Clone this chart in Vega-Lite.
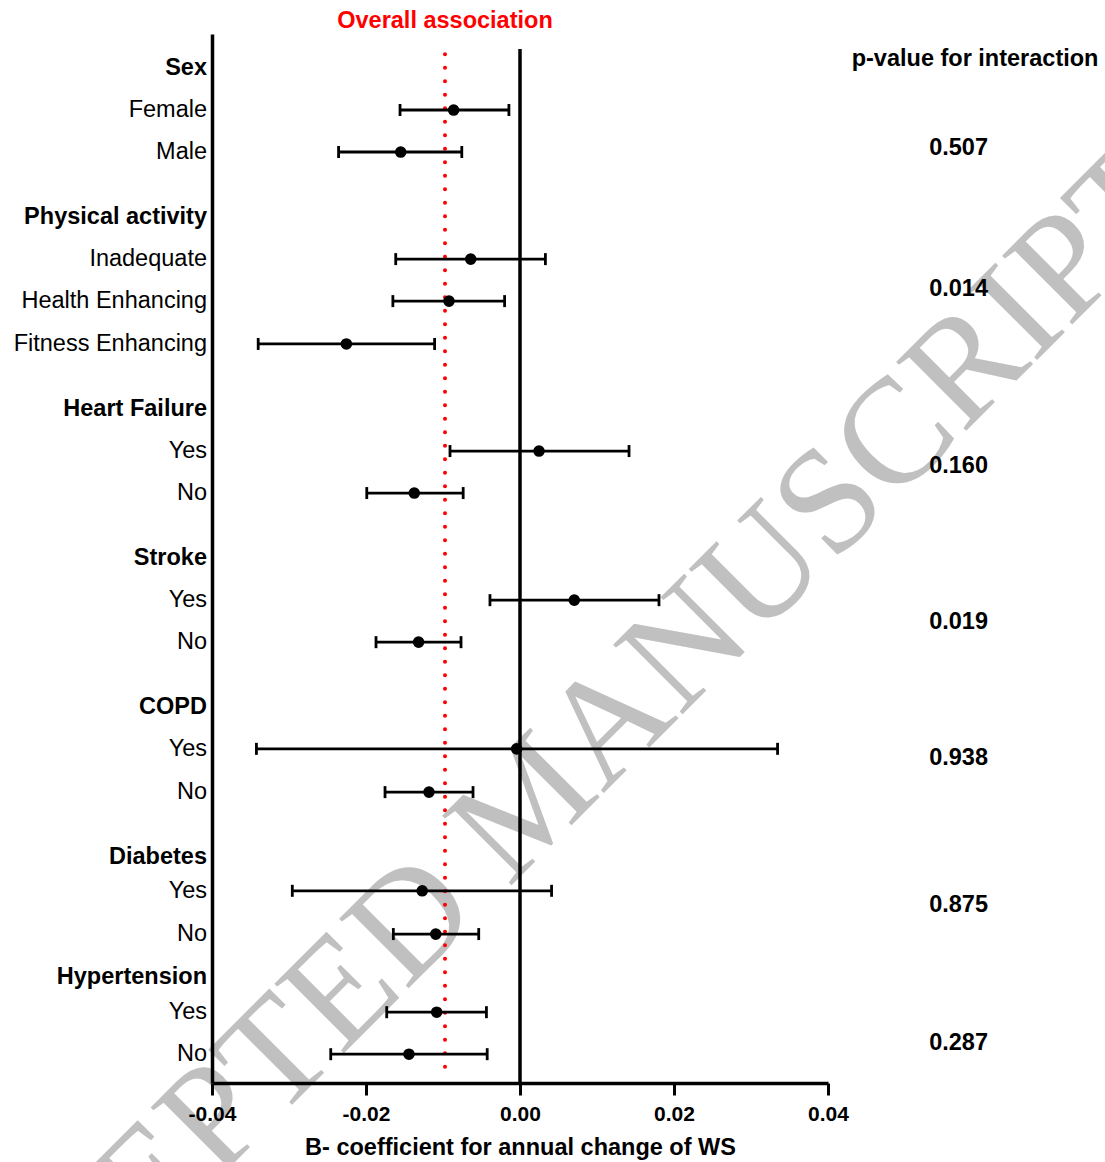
{
  "$schema": "https://vega.github.io/schema/vega-lite/v6.json",
  "width": 616,
  "height": 1049,
  "autosize": {"type": "none"},
  "padding": {"left": 212, "top": 34, "right": 277, "bottom": 79},
  "background": "white",
  "config": {"view": {"stroke": null}, "font": "Liberation Sans"},
  "datasets": {
    "rows": [
      {"label": "Sex\u00a0", "type": "header", "pos": 0.81},
      {"label": "Female", "type": "item", "pos": 1.81, "est": -0.00862, "lo": -0.01558, "hi": -0.00144},
      {"label": "Male", "type": "item", "pos": 2.81, "est": -0.01549, "lo": -0.02356, "hi": -0.00756},
      {"label": "Physical activity", "type": "header", "pos": 4.36},
      {"label": "Inadequate", "type": "item", "pos": 5.36, "est": -0.0064, "lo": -0.01614, "hi": 0.0033},
      {"label": "Health Enhancing", "type": "item", "pos": 6.36, "est": -0.00922, "lo": -0.01651, "hi": -0.002},
      {"label": "Fitness Enhancing", "type": "item", "pos": 7.38, "est": -0.02255, "lo": -0.034, "hi": -0.01109},
      {"label": "Heart Failure", "type": "header", "pos": 8.93},
      {"label": "Yes", "type": "item", "pos": 9.93, "est": 0.00247, "lo": -0.00909, "hi": 0.01416},
      {"label": "No", "type": "item", "pos": 10.93, "est": -0.01373, "lo": -0.0199, "hi": -0.00738},
      {"label": "Stroke", "type": "header", "pos": 12.48},
      {"label": "Yes", "type": "item", "pos": 13.48, "est": 0.00705, "lo": -0.0039, "hi": 0.01805},
      {"label": "No", "type": "item", "pos": 14.48, "est": -0.01317, "lo": -0.0187, "hi": -0.00766},
      {"label": "COPD", "type": "header", "pos": 16.02},
      {"label": "Yes", "type": "item", "pos": 17.02, "est": -0.00043, "lo": -0.03423, "hi": 0.03345},
      {"label": "No\u00a0", "type": "item", "pos": 18.05, "est": -0.01182, "lo": -0.01753, "hi": -0.0061},
      {"label": "Diabetes\u00a0", "type": "header", "pos": 19.6},
      {"label": "Yes", "type": "item", "pos": 20.4, "est": -0.0127, "lo": -0.02957, "hi": 0.0041},
      {"label": "No\u00a0", "type": "item", "pos": 21.43, "est": -0.01094, "lo": -0.01645, "hi": -0.00536},
      {"label": "Hypertension", "type": "header", "pos": 22.45},
      {"label": "Yes", "type": "item", "pos": 23.29, "est": -0.01082, "lo": -0.01731, "hi": -0.00436},
      {"label": "No", "type": "item", "pos": 24.29, "est": -0.01442, "lo": -0.02458, "hi": -0.00426}
    ],
    "refs": [
      {"ref": "zero", "x": 0, "y_top": 0.36, "y_bot": 24.976},
      {"ref": "overall", "x": -0.00974, "y_top": 0.48, "y_bot": 24.83}
    ],
    "pvals": [
      {"p": "0.507", "x": 0.05696, "pos": 2.72},
      {"p": "0.014", "x": 0.05696, "pos": 6.07},
      {"p": "0.160", "x": 0.05696, "pos": 10.29},
      {"p": "0.019", "x": 0.05696, "pos": 14.0},
      {"p": "0.938", "x": 0.05696, "pos": 17.24},
      {"p": "0.875", "x": 0.05696, "pos": 20.74},
      {"p": "0.287", "x": 0.05696, "pos": 24.02}
    ],
    "notes": [
      {"text": "Overall association", "kind": "overall", "x": -0.00974, "pos": -0.3},
      {"text": "p-value for interaction", "kind": "p", "x": 0.0591, "pos": 0.6}
    ],
    "watermark": [
      {"text": "ACCEPTED MANUSCRIPT", "x": 0.0056, "pos": 19.04}
    ]
  },
  "layer": [
    {
      "data": {"name": "watermark"},
      "mark": {"type": "text", "font": "Liberation Serif", "fontSize": 150, "angle": -45, "color": "#c0c0c0", "align": "center", "baseline": "alphabetic"},
      "encoding": {
        "x": {"field": "x", "type": "quantitative", "scale": {"domain": [-0.04, 0.04], "nice": false, "zero": false}, "title": "B- coefficient for annual change of WS"},
        "y": {"field": "pos", "type": "quantitative", "scale": {"domain": [0, 24.976], "nice": false, "zero": false, "reverse": true}, "title": null},
        "text": {"field": "text"}
      }
    },
    {
      "data": {"name": "refs"},
      "transform": [{"filter": "datum.ref == 'zero'"}],
      "mark": {"type": "rule", "color": "black", "strokeWidth": 3.5},
      "encoding": {
        "x": {"field": "x", "type": "quantitative", "scale": {"domain": [-0.04, 0.04], "nice": false, "zero": false}, "title": "B- coefficient for annual change of WS"},
        "y": {"field": "y_top", "type": "quantitative", "scale": {"domain": [0, 24.976], "nice": false, "zero": false, "reverse": true}, "title": null},
        "y2": {"field": "y_bot"}
      }
    },
    {
      "data": {"name": "refs"},
      "transform": [{"filter": "datum.ref == 'overall'"}],
      "mark": {"type": "rule", "color": "#ff0000", "strokeWidth": 4, "strokeDash": [0.1, 13.4], "strokeCap": "round"},
      "encoding": {
        "x": {"field": "x", "type": "quantitative", "scale": {"domain": [-0.04, 0.04], "nice": false, "zero": false}, "title": "B- coefficient for annual change of WS"},
        "y": {"field": "y_top", "type": "quantitative", "scale": {"domain": [0, 24.976], "nice": false, "zero": false, "reverse": true}, "title": null},
        "y2": {"field": "y_bot"}
      }
    },
    {
      "data": {"name": "rows"},
      "transform": [{"filter": "datum.type == 'item'"}],
      "mark": {"type": "rule", "color": "black", "strokeWidth": 2.8},
      "encoding": {
        "x": {"field": "lo", "type": "quantitative", "scale": {"domain": [-0.04, 0.04], "nice": false, "zero": false}, "title": "B- coefficient for annual change of WS"},
        "x2": {"field": "hi"},
        "y": {"field": "pos", "type": "quantitative", "scale": {"domain": [0, 24.976], "nice": false, "zero": false, "reverse": true}, "title": null}
      }
    },
    {
      "data": {"name": "rows"},
      "transform": [{"filter": "datum.type == 'item'"}],
      "mark": {"type": "tick", "orient": "vertical", "color": "black", "size": 12, "thickness": 2.8, "opacity": 1},
      "encoding": {
        "x": {"field": "lo", "type": "quantitative", "scale": {"domain": [-0.04, 0.04], "nice": false, "zero": false}, "title": "B- coefficient for annual change of WS"},
        "y": {"field": "pos", "type": "quantitative", "scale": {"domain": [0, 24.976], "nice": false, "zero": false, "reverse": true}, "title": null}
      }
    },
    {
      "data": {"name": "rows"},
      "transform": [{"filter": "datum.type == 'item'"}],
      "mark": {"type": "tick", "orient": "vertical", "color": "black", "size": 12, "thickness": 2.8, "opacity": 1},
      "encoding": {
        "x": {"field": "hi", "type": "quantitative", "scale": {"domain": [-0.04, 0.04], "nice": false, "zero": false}, "title": "B- coefficient for annual change of WS"},
        "y": {"field": "pos", "type": "quantitative", "scale": {"domain": [0, 24.976], "nice": false, "zero": false, "reverse": true}, "title": null}
      }
    },
    {
      "data": {"name": "rows"},
      "transform": [{"filter": "datum.type == 'item'"}],
      "mark": {"type": "point", "shape": "circle", "filled": true, "color": "black", "opacity": 1, "size": 135},
      "encoding": {
        "x": {
          "field": "est", "type": "quantitative",
          "scale": {"domain": [-0.04, 0.04], "nice": false, "zero": false},
          "title": "B- coefficient for annual change of WS",
          "axis": {
            "values": [-0.04, -0.02, 0, 0.02, 0.04],
            "labelExpr": "datum.value < 0 ? '-' + format(abs(datum.value), '.2f') : format(datum.value, '.2f')",
            "grid": false, "zindex": 1,
            "domainColor": "black", "domainWidth": 3.5,
            "tickColor": "black", "tickWidth": 3, "tickSize": 12,
            "labelColor": "black", "labelFont": "Liberation Sans", "labelFontSize": 21, "labelFontWeight": "bold", "labelPadding": 8,
            "labelFlush": false, "labelOverlap": false,
            "titleColor": "black", "titleFont": "Liberation Sans", "titleFontSize": 23.5, "titleFontWeight": "bold", "titlePadding": 11
          }
        },
        "y": {
          "field": "pos", "type": "quantitative",
          "scale": {"domain": [0, 24.976], "nice": false, "zero": false, "reverse": true},
          "title": null,
          "axis": {"labels": false, "ticks": false, "grid": false, "domainColor": "black", "domainWidth": 3.5, "zindex": 1}
        }
      }
    },
    {
      "data": {"name": "rows"},
      "transform": [{"filter": "datum.type == 'item'"}],
      "mark": {"type": "text", "align": "right", "baseline": "middle", "dx": -5, "fontSize": 23.5, "color": "black", "font": "Liberation Sans"},
      "encoding": {
        "x": {"datum": -0.04, "type": "quantitative", "scale": {"domain": [-0.04, 0.04], "nice": false, "zero": false}, "title": "B- coefficient for annual change of WS"},
        "y": {"field": "pos", "type": "quantitative", "scale": {"domain": [0, 24.976], "nice": false, "zero": false, "reverse": true}, "title": null},
        "text": {"field": "label"}
      }
    },
    {
      "data": {"name": "rows"},
      "transform": [{"filter": "datum.type == 'header'"}],
      "mark": {"type": "text", "align": "right", "baseline": "middle", "dx": -5, "fontSize": 23.5, "fontWeight": "bold", "color": "black", "font": "Liberation Sans"},
      "encoding": {
        "x": {"datum": -0.04, "type": "quantitative", "scale": {"domain": [-0.04, 0.04], "nice": false, "zero": false}, "title": "B- coefficient for annual change of WS"},
        "y": {"field": "pos", "type": "quantitative", "scale": {"domain": [0, 24.976], "nice": false, "zero": false, "reverse": true}, "title": null},
        "text": {"field": "label"}
      }
    },
    {
      "data": {"name": "pvals"},
      "mark": {"type": "text", "align": "center", "baseline": "middle", "fontSize": 23.5, "fontWeight": "bold", "color": "black", "font": "Liberation Sans"},
      "encoding": {
        "x": {"field": "x", "type": "quantitative", "scale": {"domain": [-0.04, 0.04], "nice": false, "zero": false}, "title": "B- coefficient for annual change of WS"},
        "y": {"field": "pos", "type": "quantitative", "scale": {"domain": [0, 24.976], "nice": false, "zero": false, "reverse": true}, "title": null},
        "text": {"field": "p"}
      }
    },
    {
      "data": {"name": "notes"},
      "mark": {"type": "text", "align": "center", "baseline": "middle", "fontSize": 23.5, "fontWeight": "bold", "font": "Liberation Sans"},
      "encoding": {
        "x": {"field": "x", "type": "quantitative", "scale": {"domain": [-0.04, 0.04], "nice": false, "zero": false}, "title": "B- coefficient for annual change of WS"},
        "y": {"field": "pos", "type": "quantitative", "scale": {"domain": [0, 24.976], "nice": false, "zero": false, "reverse": true}, "title": null},
        "text": {"field": "text"},
        "color": {"condition": {"test": "datum.kind == 'overall'", "value": "#ff0000"}, "value": "black"}
      }
    }
  ]
}
